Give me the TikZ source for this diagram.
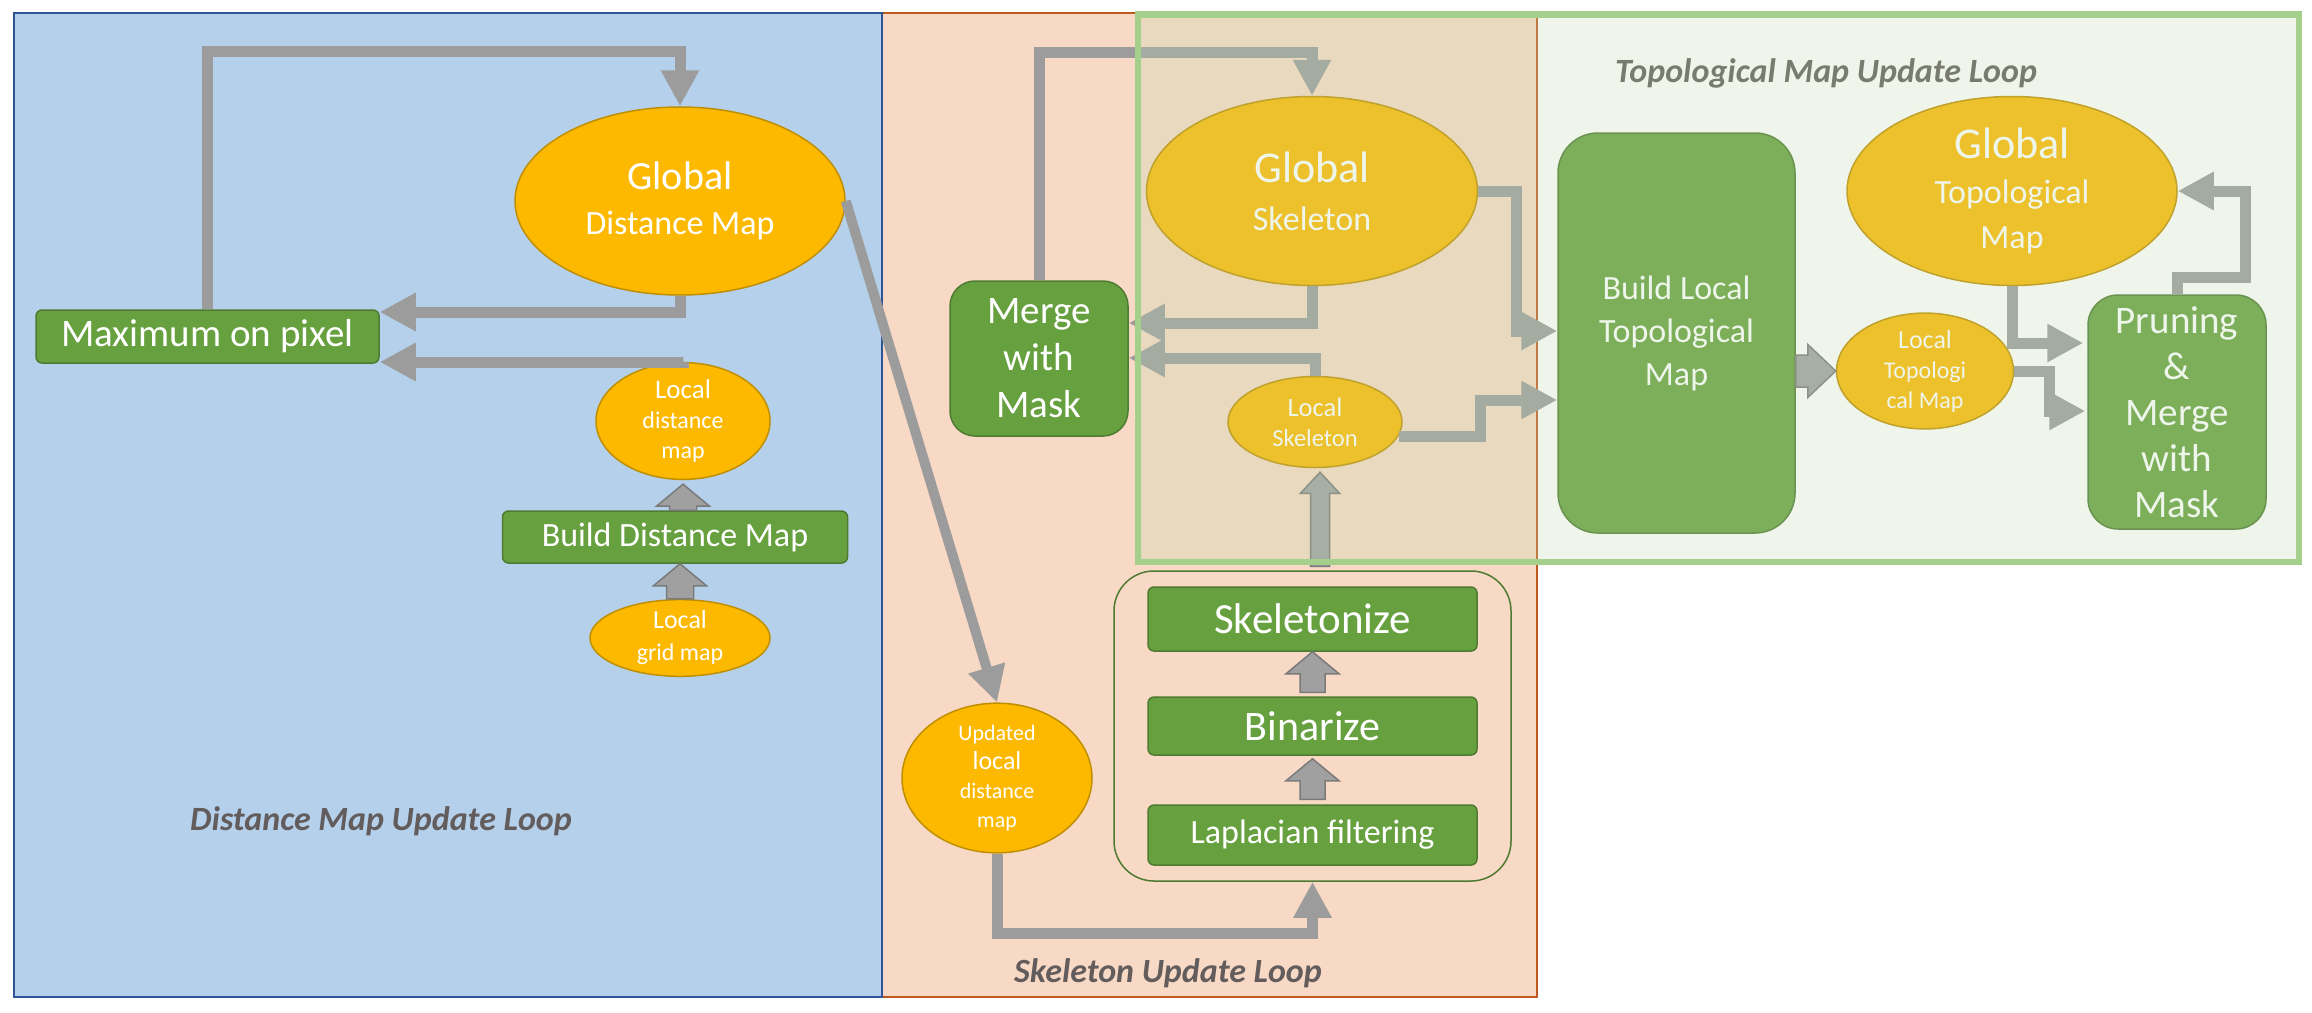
\documentclass[tikz,border=0pt]{standalone}
\usepackage{fontspec}
\setmainfont{Carlito}
\usetikzlibrary{shapes.geometric,arrows.meta,calc}

\definecolor{bluefill}{HTML}{B5D0EA}
\definecolor{blueborder}{HTML}{2F5597}
\definecolor{peach}{HTML}{F8D9C5}
\definecolor{orangeborder}{HTML}{C0591E}
\definecolor{goldfill}{HTML}{FDB900}
\definecolor{goldborder}{HTML}{BF8F00}
\definecolor{boxgreen}{HTML}{67A13F}
\definecolor{boxborder}{HTML}{4E7B31}
\definecolor{arrowgray}{HTML}{9C9C9C}
\definecolor{blockfill}{HTML}{A0A0A0}
\definecolor{blockborder}{HTML}{7A7A7A}
\definecolor{labelgray}{HTML}{625C5C}
\definecolor{greenborder}{HTML}{A4D08B}
\definecolor{overlaygreen}{HTML}{BFD9AF}

\newcommand\fsz[2]{\fontsize{#1}{#2}\selectfont}

\newcommand\blkarr[5]{%
  \coordinate (baA) at #1; \coordinate (baB) at #2;
  \coordinate (baH) at ($(baB)!#5!(baA)$);
  \filldraw[blockarrow] ($(baA)!#3!90:(baB)$) -- ($(baH)!#3!-90:(baA)$) --
    ($(baH)!#4!-90:(baA)$) -- (baB) -- ($(baH)!#4!90:(baA)$) --
    ($(baH)!#3!90:(baA)$) -- ($(baA)!#3!-90:(baB)$) -- cycle;}

\tikzset{
  panelblue/.style={fill=bluefill, draw=blueborder, line width=2pt},
  panelorange/.style={fill=peach, draw=orangeborder, line width=2pt},
  greenpanel/.style={draw=greenborder, line width=6.5pt},
  overlayfill/.style={fill=overlaygreen, fill opacity=0.25},
  gold/.style={ellipse, fill=goldfill, draw=goldborder, line width=1.5pt,
    text=white, inner sep=0pt, align=center},
  gbox/.style={rectangle, rounded corners=#1, fill=boxgreen, draw=boxborder,
    line width=1.5pt, text=white, inner sep=0pt, align=center},
  gbox/.default=6pt,
  container/.style={rectangle, rounded corners=40pt, draw=boxborder, line width=1.5pt},
  arr/.style={draw=arrowgray, line width=11pt, line join=miter,
    -{Triangle[length=36pt,width=36pt]}},
  blockarrow/.style={fill=blockfill, draw=blockborder, line width=1.5pt, line join=miter},
  looplabel/.style={text=labelgray, font=\fsz{34}{40}\bfseries\itshape, inner sep=0pt},
}

\begin{document}
\begin{tikzpicture}[x=1pt, y=-1pt]
\useasboundingbox (0,0) rectangle (2312,1012);

% panels
\draw[panelorange] (882,13) rectangle (1537,997);
\draw[panelblue] (14,13) rectangle (882,997);

% ---------- Distance map loop ----------
\node[gold, minimum width=330pt, minimum height=188pt, font=\fsz{34}{45}] (gdm) at (680,201)
  {{\fsz{40}{45}Global}\\Distance Map};
\node[gbox, minimum width=343pt, minimum height=53pt, font=\fsz{39}{45}] (max) at (207.5,336.5)
  {Maximum on pixel};
\node[gold, minimum width=174pt, minimum height=91pt, font=\fsz{24}{30}] (ldm) at (683,421)
  {{\fsz{27}{30}Local}\\distance\\map};
\node[gbox, minimum width=345pt, minimum height=52pt, font=\fsz{34}{40}] (bdm) at (675,537)
  {Build Distance Map};
\node[gold, minimum width=180pt, minimum height=68pt, font=\fsz{24}{32}] (lgm) at (680,638)
  {{\fsz{26}{32}Local}\\grid map};
\node[looplabel] (lab1) at (381,821) {Distance Map Update Loop};

% ---------- Skeleton loop ----------
\node[gold, minimum width=190pt, minimum height=140pt, font=\fsz{22}{29}] (uldm) at (997,778)
  {Updated\\{\fsz{26}{29}local}\\distance\\map};
\node[container, minimum width=397pt, minimum height=310pt] (cont) at (1312.5,726) {};
\node[gbox, minimum width=329pt, minimum height=64pt, font=\fsz{43}{48}] (skel) at (1312.5,619)
  {Skeletonize};
\node[gbox, minimum width=329pt, minimum height=58pt, font=\fsz{42}{48}] (bin) at (1312.5,726)
  {Binarize};
\node[gbox, minimum width=329pt, minimum height=60pt, font=\fsz{34}{40}] (lap) at (1312.5,835)
  {Laplacian filtering};
\node[gbox=25pt, minimum width=178pt, minimum height=155pt, font=\fsz{39}{47}] (merge) at (1039,358.5)
  {Merge\\with\\Mask};
\node[gold, minimum width=331pt, minimum height=189pt, font=\fsz{34}{48}] (gsk) at (1312,191)
  {{\fsz{44}{48}Global}\\Skeleton};
\node[gold, minimum width=174pt, minimum height=91pt, font=\fsz{24.5}{30}] (lsk) at (1315,422)
  {{\fsz{26.5}{30}Local}\\Skeleton};
\node[looplabel] (lab2) at (1168,973) {Skeleton Update Loop};

% ---------- Topological loop ----------
\node[gbox=40pt, minimum width=237pt, minimum height=400pt, font=\fsz{34}{43}] (bltm) at (1676.5,333)
  {Build Local\\Topological\\Map};
\node[gold, minimum width=177pt, minimum height=92pt, font=\fsz{24}{30}] (ltm) at (1925,371)
  {{\fsz{26}{30}Local}\\Topologi\\cal Map};
\node[gold, minimum width=330pt, minimum height=189pt, font=\fsz{34}{45}] (gtm) at (2012,191)
  {{\fsz{44}{45}Global}\\Topological\\Map};
\node[gbox=30pt, minimum width=178pt, minimum height=234pt, font=\fsz{39}{46}] (prune) at (2177,412)
  {Pruning\\\&\\Merge\\with\\Mask};
\node[looplabel] (lab3) at (1826,73) {Topological Map Update Loop};

% ---------- connectors ----------
\draw[arr] (max.north) |- (gdm.north |- 0,51) -- (gdm.north);
\draw[arr] (gdm.south) |- (max.east |- 0,312);
\draw[arr] (ldm.north) |- (max.east |- 0,362);
\blkarr{(lgm.north)}{(lgm.north |- bdm.south)}{13.5pt}{26.5pt}{22pt}
\blkarr{(ldm.south |- bdm.north)}{($(ldm.south)+(0,4)$)}{13.5pt}{26.5pt}{22pt}

\draw[arr, line width=10pt] (gdm.east) -- (uldm.north);
\draw[arr] (uldm.south) |- (cont.south |- 0,933) -- (cont.south);
\blkarr{($(lap.north)+(0,-5)$)}{($(bin.south)+(0,3)$)}{12.5pt}{26.5pt}{22pt}
\blkarr{($(bin.north)+(0,-4)$)}{(skel.south)}{12.5pt}{26.5pt}{22pt}
\blkarr{($(lsk.south |- cont.north)+(5,-4)$)}{($(lsk.south)+(5,4)$)}{9.5pt}{19.5pt}{21pt}

\draw[arr] (merge.north) |- (gsk.north |- 0,52) -- (gsk.north);
\draw[arr] (gsk.south) |- (merge.east |- 0,323);
\draw[arr] (lsk.north) |- (merge.east |- 0,358);
\draw[arr] (gsk.east) -| (1516,331) -- (bltm.west |- 0,331);
\draw[arr] ($(lsk.east)+(-4,14)$) -| (1480,400) -- (bltm.west |- 0,400);

\blkarr{(bltm.east |- ltm.west)}{(ltm.west)}{16pt}{26.5pt}{28pt}
\draw[arr] (gtm.south) |- ($(prune.west |- 0,343)+(-4,0)$);
\draw[arr] (ltm.east) -| (2049,411) -- ($(prune.west |- 0,411)+(-2,0)$);
\draw[arr] (prune.north) |- (2245,277) |- (gtm.east);

% ---------- topological panel overlay ----------
\fill[overlayfill] (1138,14.5) rectangle (2299,562);
\draw[greenpanel] (1138,14.5) rectangle (2299,562);
\end{tikzpicture}
\end{document}
